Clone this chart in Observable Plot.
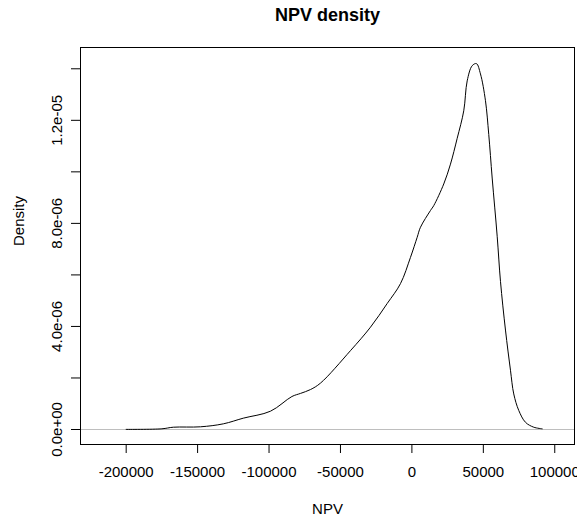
<!DOCTYPE html>
<html>
<head>
<meta charset="utf-8">
<script src="https://cdn.jsdelivr.net/npm/d3@7"></script>
<script src="https://cdn.jsdelivr.net/npm/@observablehq/plot@0.6"></script>
<style>
  html, body { margin: 0; padding: 0; background: #ffffff; }
  #chart { width: 577px; height: 522px; }
</style>
</head>
<body>
<div id="chart"></div>
<script>
// ---- data ----
const npv = [-200000, -175000, -167000, -148000, -132000, -118000, -99000, -84000, -78000, -71000,
  -64000, -43000, -29000, -17300, -8000, -1000, 3700, 6000, 13000, 15300,
  22300, 27000, 31700, 36300, 38700, 42200, 45200, 48000, 51500, 53800,
  56200, 59700, 62000, 65500, 69000, 71300, 74800, 79500, 85300, 91200];
const density = [5e-9, 2.7e-8, 8.9e-8, 1.05e-7, 2.2e-7, 4.4e-7, 7.1e-7, 1.28e-6, 1.4e-6, 1.55e-6,
  1.8e-6, 3.06e-6, 3.97e-6, 4.89e-6, 5.66e-6, 6.68e-6, 7.46e-6, 7.85e-6, 8.5e-6, 8.69e-6,
  9.53e-6, 1.03e-5, 1.13e-5, 1.237e-5, 1.353e-5, 1.412e-5, 1.42e-5, 1.38e-5, 1.276e-5, 1.145e-5,
  9.76e-6, 7.5e-6, 5.75e-6, 3.86e-6, 2.3e-6, 1.38e-6, 7.4e-7, 2.8e-7, 8.9e-8, 2.7e-8];
const xTicks = [-200000, -150000, -100000, -50000, 0, 50000, 100000];
const yTicks = [0, 2e-6, 4e-6, 6e-6, 8e-6, 1e-5, 1.2e-5, 1.4e-5];
const yLabelTicks = [0, 4e-6, 8e-6, 1.2e-5];
const titleText = "NPV density";
const xLabel = "NPV";
const yLabel = "Density";

const points = npv.map((x, i) => ({x, y: density[i]}));

function fmtExp(v) {
  const s = v.toExponential(1); // e.g. "1.2e-5"
  const [m, e] = s.split("e");
  const sign = e[0] === "-" ? "-" : "+";
  const digits = e.replace(/^[+-]/, "").padStart(2, "0");
  return `${m}e${sign}${digits}`;
}

const plot = Plot.plot({
  width: 577,
  height: 522,
  marginLeft: 80,
  marginRight: 3,
  marginTop: 47,
  marginBottom: 78,
  style: {fontFamily: "'Liberation Sans', Arial, sans-serif", fontSize: "15px", color: "#000", background: "#fff", overflow: "visible"},
  x: {domain: [-231970, 113818], label: null},
  y: {domain: [-5.82e-7, 1.4826e-5], label: null},
  marks: [
    Plot.ruleY([0], {stroke: "#BEBEBE", strokeWidth: 1}),
    Plot.line(points, {x: "x", y: "y", stroke: "#000", strokeWidth: 1, curve: "catmull-rom"}),
    Plot.frame({stroke: "#000", strokeWidth: 1}),
    Plot.axisX({ticks: xTicks, tickSize: 9, tickPadding: 13, tickFormat: d => String(d), fontSize: 15, label: null}),
    Plot.axisY({ticks: yTicks, tickSize: 9, tickFormat: () => "", label: null}),
    Plot.text(yLabelTicks, {y: d => d, text: d => fmtExp(d), frameAnchor: "left", rotate: -90, dx: -19, lineAnchor: "bottom", textAnchor: "middle", fontSize: 15, fill: "#000"}),
    Plot.text([xLabel], {text: d => d, frameAnchor: "bottom", dy: 69, lineAnchor: "bottom", fontSize: 15, fill: "#000"}),
    Plot.text([yLabel], {text: d => d, frameAnchor: "left", dx: -57, rotate: -90, lineAnchor: "bottom", fontSize: 15, fill: "#000"}),
    Plot.text([titleText], {text: d => d, frameAnchor: "top", dy: -27, lineAnchor: "bottom", fontSize: 18, fontWeight: "bold", fill: "#000"})
  ]
});
document.getElementById("chart").appendChild(plot);
</script>
</body>
</html>
